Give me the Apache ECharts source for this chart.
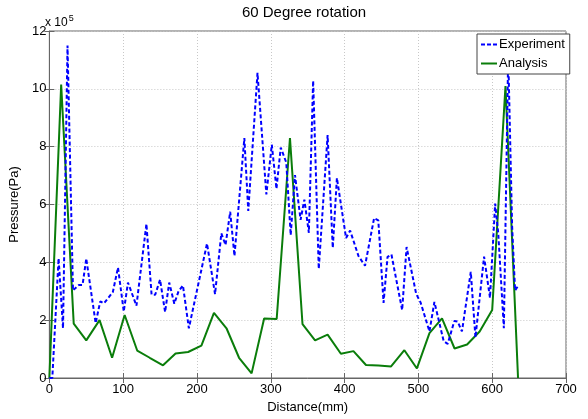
<!DOCTYPE html>
<html>
<head>
<meta charset="utf-8">
<script src="https://cdn.jsdelivr.net/npm/echarts@6/dist/echarts.min.js"></script>
<style>html,body{margin:0;padding:0;background:#fff}#c{width:588px;height:419px}</style>
</head>
<body>
<div id="c"></div>
<script>
// Pressure in units of 1e5 Pa, distance in mm
const expX = [0,4,12.5,18.5,24.6,32,40,45,50,62.7,69,74,86,93,100.8,106.5,118,131.5,138.5,143.4,150,156.8,162.4,169.3,175,181,189,201,213.6,224.5,233,238.7,245,250.8,264.2,269.5,282,294,301.4,307.7,313.5,321,327,332.8,340.4,345.5,351.6,357.4,365,377,384,389.6,402,407.5,418.8,427.7,440,445.7,452.8,458.2,463.5,478,484,497,503,515,521.7,534.3,539.7,548.7,553.3,559,571,577.3,589,591,597,604,608.2,615.8,621.7,627,631,636];
const expY = [0,0,4.14,1.72,11.5,3.03,3.22,3.22,4.13,1.9,2.65,2.58,2.97,3.82,2.3,3.3,2.5,5.33,2.88,2.88,3.4,2.28,3.3,2.57,3.0,3.2,1.72,3.15,4.65,2.9,5.0,4.6,5.75,4.22,8.3,5.78,10.55,6.35,8.07,6.54,7.97,7.45,4.94,7.02,5.47,6.17,5.02,10.28,3.77,8.4,4.5,6.92,4.84,5.1,4.22,3.88,5.53,5.45,2.6,4.19,4.27,2.35,4.53,2.91,2.61,1.61,2.63,1.27,1.18,1.97,1.95,1.61,3.67,1.4,4.2,4.22,2.77,6.03,5.01,1.72,11.2,5.24,3.03,3.22];
const anaX = [0,16,33,50,68,85,102,119,136,154,171,188,206,223,240,257,274,291,308,326,343,360,377,395,412,429,446,463,481,498,515,532,549,566,583,600,618,635];
const anaY = [0,10.15,1.88,1.3,2.0,0.7,2.18,0.95,0.7,0.44,0.85,0.9,1.12,2.25,1.72,0.7,0.16,2.06,2.04,8.3,1.86,1.3,1.5,0.84,0.93,0.45,0.43,0.4,0.96,0.33,1.55,2.06,1.02,1.16,1.61,2.35,10.1,0];
const xTicks = {min:0, max:700, interval:100};
const yTicks = {min:0, max:12, interval:2};

const font = 'Arial, "Liberation Sans", sans-serif';
const chart = echarts.init(document.getElementById('c'), null, {renderer:'canvas'});
const zip = (a,b)=>a.map((v,i)=>[v,b[i]]);
const gridLine = {show:true, lineStyle:{color:'#c8c8c8', type:[1,2], width:1}};
chart.setOption({
  animation:false,
  backgroundColor:'#fff',
  grid:{left:45, right:22, top:31, bottom:35, show:true, borderColor:'#666', borderWidth:1, containLabel:false},
  graphic:[
    {type:'text', x:304, y:13, style:{text:'60 Degree rotation', font:'15px '+font, fill:'#000', textAlign:'center', textVerticalAlign:'middle'}},
    {type:'text', x:45, y:23, style:{text:'{a|x 10}{b|5}', rich:{a:{fontSize:12, fontFamily:font, fill:'#000', color:'#000'}, b:{fontSize:9, fontFamily:font, color:'#000', verticalAlign:'top', padding:[0,0,8,1]}}, textVerticalAlign:'middle'}}
  ],
  legend:{
    left:477, top:34, orient:'vertical', padding:[3,5,3,4], itemGap:4, itemWidth:16, itemHeight:2,
    borderColor:'#444', borderWidth:1, backgroundColor:'#fff', borderRadius:0,
    textStyle:{fontSize:13, fontFamily:font, color:'#000', padding:[0,0,0,-3], lineHeight:15},
    data:[
      {name:'Experiment', icon:'path://M0,0h4v2h-4z M6,0h4v2h-4z M12,0h4v2h-4z'},
      {name:'Analysis', icon:'path://M0,0h16v2h-16z'}
    ]
  },
  xAxis:[{
    type:'value', min:xTicks.min, max:xTicks.max, interval:xTicks.interval,
    name:'Distance(mm)', nameLocation:'middle', nameGap:23,
    nameTextStyle:{fontSize:13, fontFamily:font, color:'#000'},
    axisLine:{show:true, onZero:false, lineStyle:{color:'#666'}},
    axisTick:{show:true, inside:true, length:5, lineStyle:{color:'#666'}},
    axisLabel:{fontSize:13, fontFamily:font, color:'#000', margin:5},
    splitLine:gridLine
  },{
    type:'value', position:'top', min:xTicks.min, max:xTicks.max, interval:xTicks.interval,
    axisLine:{show:false}, axisTick:{show:true, inside:true, length:5, lineStyle:{color:'#666'}},
    axisLabel:{show:false}, splitLine:{show:false}
  }],
  yAxis:[{
    type:'value', min:yTicks.min, max:yTicks.max, interval:yTicks.interval,
    name:'Pressure(Pa)', nameLocation:'middle', nameGap:24, nameRotate:90,
    nameTextStyle:{fontSize:13, fontFamily:font, color:'#000'},
    axisLine:{show:true, lineStyle:{color:'#666'}},
    axisTick:{show:true, inside:true, length:5, lineStyle:{color:'#666'}},
    axisLabel:{fontSize:13, fontFamily:font, color:'#000', margin:3},
    splitLine:gridLine
  },{
    type:'value', position:'right', min:yTicks.min, max:yTicks.max, interval:yTicks.interval,
    axisLine:{show:false}, axisTick:{show:true, inside:true, length:5, lineStyle:{color:'#666'}},
    axisLabel:{show:false}, splitLine:{show:false}
  }],
  series:[
    {name:'Experiment', type:'line', data:zip(expX,expY), symbol:'none', clip:true,
     lineStyle:{color:'#0000ff', width:2, type:[4,2.5]}, itemStyle:{color:'#0000ff'}, z:3},
    {name:'Analysis', type:'line', data:zip(anaX,anaY), symbol:'none', clip:true,
     lineStyle:{color:'#0a7d0a', width:2, type:'solid'}, itemStyle:{color:'#0a7d0a'}, z:2}
  ]
});
</script>
</body>
</html>
